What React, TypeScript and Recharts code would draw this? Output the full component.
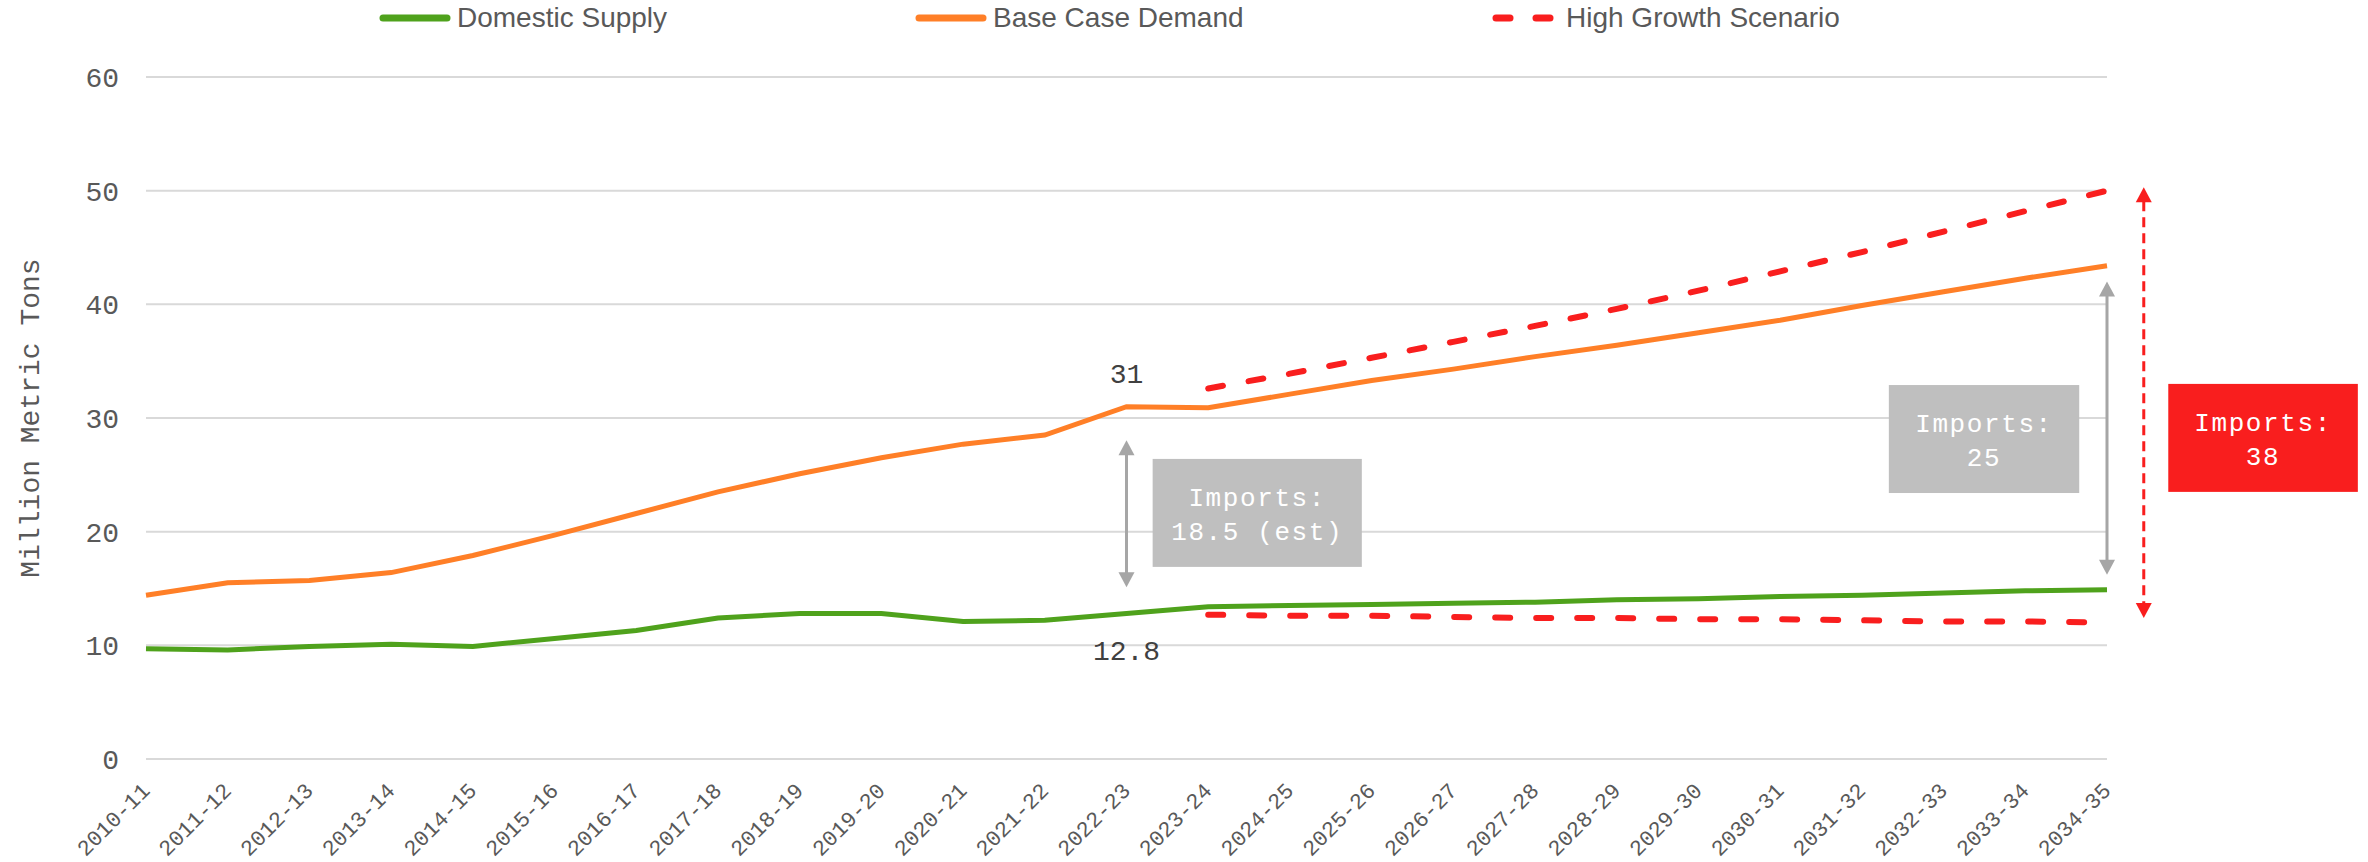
import React from 'react';
import {
  LineChart,
  Line,
  XAxis,
  YAxis,
  CartesianGrid,
  Legend,
  ReferenceLine,
  ReferenceArea,
  ReferenceDot,
} from 'recharts';

// ---------- DATA ----------
const periods = [
  '2010-11', '2011-12', '2012-13', '2013-14', '2014-15', '2015-16', '2016-17',
  '2017-18', '2018-19', '2019-20', '2020-21', '2021-22', '2022-23', '2023-24',
  '2024-25', '2025-26', '2026-27', '2027-28', '2028-29', '2029-30', '2030-31',
  '2031-32', '2032-33', '2033-34', '2034-35',
];

const domesticSupply = [
  9.7, 9.6, 9.9, 10.1, 9.9, 10.6, 11.3, 12.4, 12.8, 12.8, 12.1, 12.2, 12.8,
  13.4, 13.5, 13.6, 13.7, 13.8, 14.0, 14.1, 14.3, 14.4, 14.6, 14.8, 14.9,
];

const baseCaseDemand = [
  14.4, 15.5, 15.7, 16.4, 17.9, 19.7, 21.6, 23.5, 25.1, 26.5, 27.7, 28.5, 31.0,
  30.9, 32.1, 33.3, 34.3, 35.4, 36.4, 37.5, 38.6, 39.9, 41.1, 42.3, 43.4,
];

const highGrowthDemand = [
  null, null, null, null, null, null, null, null, null, null, null, null, null,
  32.6, 33.9, 35.3, 36.7, 38.1, 39.6, 41.2, 42.9, 44.6, 46.4, 48.2, 50.0,
];

const highGrowthSupply = [
  null, null, null, null, null, null, null, null, null, null, null, null, null,
  12.7, 12.6, 12.6, 12.5, 12.4, 12.4, 12.3, 12.3, 12.2, 12.1, 12.1, 12.0,
];

const yTicks = [0, 10, 20, 30, 40, 50, 60];

const labelPeriod = '2022-23';
const labelIndex = periods.indexOf(labelPeriod);

// import-gap annotations (data space: x = period index, y = million tons)
const importArrows = [
  { x: 12, yTop: 28.05, yBottom: 15.1, kind: 'gray' },
  { x: 24, yTop: 42.0, yBottom: 16.2, kind: 'gray' },
  { x: 24.45, yTop: 50.3, yBottom: 12.4, kind: 'red' },
];

const importBoxes = [
  { x1: 12.32, x2: 14.88, y1: 16.9, y2: 26.4, kind: 'gray', lines: ['Imports:', '18.5 (est)'] },
  { x1: 21.33, x2: 23.66, y1: 23.4, y2: 32.9, kind: 'gray', lines: ['Imports:', '25'] },
  { x1: 24.75, x2: 27.07, y1: 23.5, y2: 33.0, kind: 'red', lines: ['Imports:', '38'] },
];

// ---------- STYLE ----------
const GREEN = '#4fa21c';
const ORANGE = '#ff7f27';
const RED = '#f91e1e';
const BOX_GRAY = '#bfbfbf';
const ARROW_GRAY = '#a6a6a6';
const TEXT_GRAY = '#595959';
const MONO = '"Liberation Mono", "DejaVu Sans Mono", monospace';
const SANS = '"Liberation Sans", Arial, sans-serif';

const data = periods.map((p, i) => ({
  idx: i,
  period: p,
  supply: domesticSupply[i],
  demand: baseCaseDemand[i],
  highDemand: highGrowthDemand[i],
  highSupply: highGrowthSupply[i],
}));

const makeArrowShape = (kind: string) => (props: any) => {
  const { x1, y1, x2, y2 } = props;
  const x = (x1 + x2) / 2;
  const top = Math.min(y1, y2);
  const bottom = Math.max(y1, y2);
  const color = kind === 'red' ? RED : ARROW_GRAY;
  const hw = 8;
  const hh = 15;
  return (
    <g>
      <line
        x1={x}
        y1={top + hh - 1}
        x2={x}
        y2={bottom - hh + 1}
        stroke={color}
        strokeWidth={3}
        strokeDasharray={kind === 'red' ? '10 6' : undefined}
      />
      <polygon points={`${x},${top} ${x - hw},${top + hh} ${x + hw},${top + hh}`} fill={color} />
      <polygon points={`${x},${bottom} ${x - hw},${bottom - hh} ${x + hw},${bottom - hh}`} fill={color} />
    </g>
  );
};

const makeBoxShape = (kind: string, lines: string[]) => (props: any) => {
  const { x, y, width, height } = props;
  const cx = x + width / 2;
  const cy = y + height / 2;
  const common = {
    textAnchor: 'middle' as const,
    dominantBaseline: 'central' as const,
    fill: '#ffffff',
    fontFamily: MONO,
    fontSize: 26,
    letterSpacing: 1.6,
  };
  return (
    <g>
      <rect x={x} y={y} width={width} height={height} fill={kind === 'red' ? RED : BOX_GRAY} />
      <text x={cx} y={cy - 14} {...common}>
        {lines[0]}
      </text>
      <text x={cx} y={cy + 20} {...common}>
        {lines[1]}
      </text>
    </g>
  );
};

const XTick = (props: any) => {
  const { x, y, payload } = props;
  const px = x + 5;
  const py = y + 33;
  return (
    <text
      x={px}
      y={py}
      transform={`rotate(-45 ${px} ${py})`}
      textAnchor="end"
      fill={TEXT_GRAY}
      fontFamily={MONO}
      fontSize={22}
    >
      {periods[payload.value]}
    </text>
  );
};

const legendItems = [
  { name: 'Domestic Supply', color: GREEN, dashed: false, left: 379 },
  { name: 'Base Case Demand', color: ORANGE, dashed: false, left: 915 },
  { name: 'High Growth Scenario', color: RED, dashed: true, left: 1488 },
];

const LegendContent = () => (
  <div style={{ position: 'relative', width: 2368, height: 35 }}>
    {legendItems.map((it) => (
      <div
        key={it.name}
        style={{
          position: 'absolute',
          left: it.left,
          top: 0,
          height: 35,
          display: 'flex',
          alignItems: 'center',
          whiteSpace: 'nowrap',
        }}
      >
        <svg width={72} height={10} style={{ marginRight: 6 }}>
          {it.dashed ? (
            <g stroke={it.color} strokeWidth={7} strokeLinecap="round">
              <line x1={8} y1={5} x2={22} y2={5} />
              <line x1={48} y1={5} x2={62} y2={5} />
            </g>
          ) : (
            <line x1={4} y1={5} x2={68} y2={5} stroke={it.color} strokeWidth={7} strokeLinecap="round" />
          )}
        </svg>
        <span style={{ fontFamily: SANS, fontSize: 28, color: TEXT_GRAY, lineHeight: '35px' }}>{it.name}</span>
      </div>
    ))}
  </div>
);

export default function App() {
  return (
    <div style={{ width: 2368, height: 862, background: '#ffffff' }}>
      <style>{`body{margin:0;background:#fff;}`}</style>
      <LineChart
        width={2368}
        height={862}
        data={data}
        margin={{ top: 42, right: 261, bottom: 0, left: 0 }}
      >
        <CartesianGrid horizontal vertical={false} stroke="#d9d9d9" strokeWidth={2} />
        <XAxis
          dataKey="idx"
          type="number"
          domain={[0, 24]}
          ticks={periods.map((_, i) => i)}
          interval={0}
          axisLine={false}
          tickLine={false}
          tickSize={0}
          tickMargin={0}
          height={103}
          tick={<XTick />}
        />
        <YAxis
          domain={[0, 60]}
          ticks={yTicks}
          width={146}
          axisLine={false}
          tickLine={false}
          tickSize={0}
          tickMargin={27}
          tick={{ fill: TEXT_GRAY, fontFamily: MONO, fontSize: 28 }}
          label={{
            content: (p: any) => {
              const vb = p && p.viewBox ? p.viewBox : { x: 0, y: 77, height: 682 };
              const lx = 39;
              const ly = vb.y + vb.height / 2;
              return (
                <text
                  x={lx}
                  y={ly}
                  transform={`rotate(-90 ${lx} ${ly})`}
                  textAnchor="middle"
                  fill={TEXT_GRAY}
                  fontFamily={MONO}
                  fontSize={28}
                >
                  Million Metric Tons
                </text>
              );
            },
          }}
        />
        <Legend
          verticalAlign="top"
          align="left"
          height={35}
          wrapperStyle={{ top: 0, left: 0, width: 2368, height: 35 }}
          content={() => <LegendContent />}
        />
        <Line
          type="linear"
          dataKey="supply"
          name="Domestic Supply"
          stroke={GREEN}
          strokeWidth={5}
          dot={false}
          isAnimationActive={false}
        />
        <Line
          type="linear"
          dataKey="demand"
          name="Base Case Demand"
          stroke={ORANGE}
          strokeWidth={5}
          dot={false}
          isAnimationActive={false}
        />
        <Line
          type="linear"
          dataKey="highDemand"
          name="High Growth Scenario"
          stroke={RED}
          strokeWidth={6}
          strokeDasharray="15 26"
          strokeLinecap="round"
          dot={false}
          isAnimationActive={false}
        />
        <Line
          type="linear"
          dataKey="highSupply"
          name="High Growth Scenario (supply)"
          legendType="none"
          stroke={RED}
          strokeWidth={6}
          strokeDasharray="15 26"
          strokeLinecap="round"
          dot={false}
          isAnimationActive={false}
        />
        <ReferenceDot
          x={labelIndex}
          y={baseCaseDemand[labelIndex]}
          r={0}
          fill="none"
          stroke="none"
          label={{
            value: String(baseCaseDemand[labelIndex]),
            position: 'top',
            offset: 24,
            fill: '#404040',
            fontFamily: MONO,
            fontSize: 28,
          }}
        />
        <ReferenceDot
          x={labelIndex}
          y={domesticSupply[labelIndex]}
          r={0}
          fill="none"
          stroke="none"
          label={{
            value: domesticSupply[labelIndex].toFixed(1),
            position: 'bottom',
            offset: 27,
            fill: '#404040',
            fontFamily: MONO,
            fontSize: 28,
          }}
        />
        {importArrows.map((a, i) => (
          <ReferenceLine
            key={`arrow-${i}`}
            segment={[
              { x: a.x, y: a.yTop },
              { x: a.x, y: a.yBottom },
            ]}
            ifOverflow="visible"
            shape={makeArrowShape(a.kind)}
          />
        ))}
        {importBoxes.map((b, i) => (
          <ReferenceArea
            key={`box-${i}`}
            x1={b.x1}
            x2={b.x2}
            y1={b.y1}
            y2={b.y2}
            ifOverflow="visible"
            shape={makeBoxShape(b.kind, b.lines)}
          />
        ))}
      </LineChart>
    </div>
  );
}
